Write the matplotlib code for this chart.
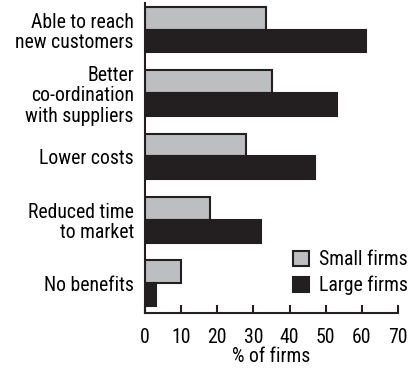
import numpy as np
import matplotlib.pyplot as plt
from matplotlib.patches import Patch

# benefits reported by small vs large firms
categories = ['Able to reach\nnew customers', 'Better\nco-ordination\nwith suppliers',
              'Lower costs', 'Reduced time\nto market', 'No benefits']
small_firms = [33.5, 35, 28, 18, 10]
large_firms = [61, 53, 47, 32, 3]
xticks = [0, 10, 20, 30, 40, 50, 60, 70]

plt.rcParams['font.family'] = ['Roboto Condensed', 'DejaVu Sans']
edge = '#231f20'
grey = '#bcbec0'
fs = 14.2

fig = plt.figure(figsize=(4.13, 3.75), dpi=100)
ax = fig.add_axes([0.351, 0.165, 0.613, 0.827])

pos = np.arange(len(categories))
h = 0.36
ax.barh(pos - h/2, small_firms, height=h, color=grey, edgecolor=edge, linewidth=1.5)
ax.barh(pos + h/2, large_firms, height=h, color=edge, edgecolor=edge, linewidth=1.5)

ax.set_ylim(4.47, -0.42)
ax.set_xlim(0, 70)
ax.set_yticks(pos)
ax.set_yticklabels(categories, fontsize=fs, linespacing=1.1)
ax.tick_params(axis='y', length=0, pad=8)
ax.set_xticks(xticks)
ax.tick_params(axis='x', direction='in', length=6, width=1.5, color=edge,
               labelsize=fs, pad=11)
ax.set_xlabel('% of firms', fontsize=fs, labelpad=0)

for s in ['top', 'right']:
    ax.spines[s].set_visible(False)
for s in ['left', 'bottom']:
    ax.spines[s].set_linewidth(1.5)
    ax.spines[s].set_color(edge)

handles = [Patch(facecolor=grey, edgecolor=edge, linewidth=1.5, label='Small firms'),
           Patch(facecolor=edge, edgecolor=edge, linewidth=1.5, label='Large firms')]
ax.legend(handles=handles, loc='lower right', bbox_to_anchor=(1.11, 0.0),
          frameon=False, fontsize=fs, handlelength=0.8, handleheight=0.8,
          handletextpad=0.55, labelspacing=0.35)

fig.savefig('out.png', dpi=100)
